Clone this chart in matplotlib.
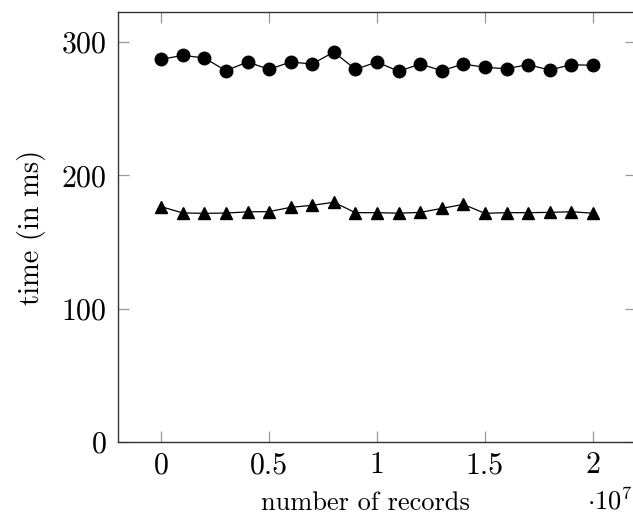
import matplotlib
matplotlib.use('Agg')
import matplotlib.pyplot as plt
import numpy as np

plt.rcParams['font.family'] = 'serif'
plt.rcParams['font.serif'] = ['cmr10']
plt.rcParams['mathtext.fontset'] = 'cm'
plt.rcParams['axes.formatter.use_mathtext'] = True

# number of records (in units of 1e7)
records = [0.0, 0.1, 0.2, 0.3, 0.4, 0.5, 0.6, 0.7, 0.8, 0.9, 1.0,
           1.1, 1.2, 1.3, 1.4, 1.5, 1.6, 1.7, 1.8, 1.9, 2.0]
time_circle = [287, 290, 288, 278.5, 285, 279.5, 285, 283.5, 292.5, 279.5, 285,
               278, 283.5, 278.5, 283.5, 281, 280, 283, 279, 283, 282.5]
time_triangle = [176.5, 171.8, 171.5, 171.7, 172.6, 172.8, 176, 177.5, 179.8, 172, 172,
                 171.6, 172.2, 175.2, 178.2, 171.5, 172, 172, 172.2, 172.7, 171.6]

xticks = [0, 0.5, 1, 1.5, 2]
xticklabels = ['0', '0.5', '1', '1.5', '2']
yticks = [0, 100, 200, 300]

fs = 21.5
lfs = 19

fig = plt.figure(figsize=(6.33, 5.16), dpi=100)
ax = fig.add_axes([118/633, 74/516, (636-118)/633, (442-12)/516])

ax.plot(records, time_circle, '-o', color='black', linewidth=0.9,
        markersize=9)
ax.plot(records, time_triangle, '-^', color='black', linewidth=0.9,
        markersize=8)

ax.set_xlim(-0.2, 2.2)
ax.set_ylim(0, 322.5)
ax.set_xticks(xticks)
ax.set_xticklabels(xticklabels)
ax.set_yticks(yticks)

ax.tick_params(direction='in', length=8, width=0.9, color='#999999',
               labelsize=fs, top=True, right=True)
ax.tick_params(axis='x', pad=7)
ax.tick_params(axis='y', pad=8)
for s in ax.spines.values():
    s.set_linewidth(1.0)
    s.set_color('#333333')

ax.set_ylabel('time (in ms)', fontsize=20.5, labelpad=11)
fig.text(365/633, 1 - 510/516, 'number of records', fontsize=lfs,
         ha='center', va='baseline')
fig.text(587/633, 1 - 510/516, r'$\cdot 10^7$', fontsize=lfs,
         ha='left', va='baseline')

fig.savefig('out.png', dpi=100)
